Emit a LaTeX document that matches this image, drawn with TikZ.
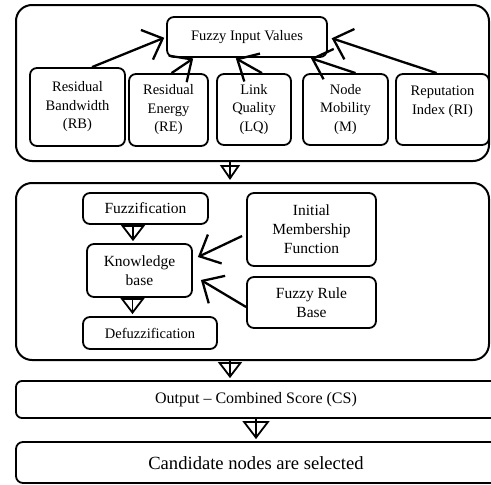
\documentclass[tikz,border=0pt]{standalone}
\usepackage{fontspec}
\setmainfont{Liberation Serif}
\usetikzlibrary{arrows.meta,calc}
\begin{document}
\begin{tikzpicture}[x=1pt,y=-1pt,
  box/.style={draw, line width=1.8pt, rounded corners=7pt, align=center, inner sep=0pt},
  bigbox/.style={draw, line width=2pt, rounded corners=16pt, align=center, inner sep=0pt},
  fa/.style={font=\fontsize{14.5}{18.5}\selectfont},
  fb/.style={font=\fontsize{15.5}{19}\selectfont},
  barb/.style={line width=2.3pt, -{Straight Barb[length=17pt,width=32pt]}},
  tri/.style={line width=1.8pt, shorten >=2pt, -{Triangle[open,length=16pt,width=24pt]}},
  shaft/.style={line width=1.8pt, shorten >=3pt},
]
\useasboundingbox (0,0) rectangle (491,485);
\clip (0,0) rectangle (491,485);

% outer containers
\node[bigbox, minimum width=473pt, minimum height=156pt] (outer1) at (252.5,83) {};
\node[bigbox, minimum width=473pt, minimum height=177pt] (outer2) at (252.5,271.5) {};

% top section
\node[box, fa, minimum width=160pt, minimum height=40pt] (fiv) at (247,37) {Fuzzy Input Values};
\node[box, fa, minimum width=95pt, minimum height=78pt] (rb) at (77.5,107) {Residual\\Bandwidth\\(RB)};
\node[box, fa, minimum width=79pt, minimum height=72pt] (re) at (168.5,110) {Residual\\Energy\\(RE)};
\node[box, fa, minimum width=74pt, minimum height=71pt] (lq) at (254,109.5) {Link\\Quality\\(LQ)};
\node[box, fa, minimum width=85pt, minimum height=71pt] (nm) at (345.5,109.5) {Node\\Mobility\\(M)};
\node[box, fa, minimum width=93pt, minimum height=71pt] (ri) at (442.5,109.5) {Reputation\\Index (RI)\\\mbox{}};

\draw[barb, shorten >=2pt] (rb.70) -- (fiv.west);
\draw[barb, shorten >=1pt] ([xshift=3pt]re.north) -- ([xshift=-53pt]fiv.south);
\draw[barb, shorten >=1pt] ([xshift=8pt]lq.north) -- ([xshift=-12pt]fiv.south);
\draw[barb, shorten >=1pt] ([xshift=10pt]nm.north) -- ([xshift=63pt]fiv.south);
\draw[barb, shorten >=4pt] ([xshift=-6pt]ri.north) -- (fiv.east);

% middle section
\node[box, fb, minimum width=125pt, minimum height=31pt] (fuzz) at (145.5,208.5) {Fuzzification};
\node[box, fb, minimum width=105pt, minimum height=53pt] (kb) at (139.5,270.5) {Knowledge\\base};
\node[box, fa, minimum width=134pt, minimum height=32pt] (defuzz) at (150,333) {Defuzzification};
\node[box, fb, minimum width=129pt, minimum height=73pt] (imf) at (311.5,229.5) {Initial\\Membership\\Function};
\node[box, fb, minimum width=129pt, minimum height=51pt] (frb) at (311.5,302.5) {Fuzzy Rule\\Base};

\draw[barb] ([xshift=-4pt,yshift=-6.5pt]imf.west) -- ([xshift=5pt,yshift=13.5pt]kb.east);
\draw[barb] ([yshift=-4.5pt]frb.west) -- ([xshift=8pt,yshift=-9.5pt]kb.east);

% bottom section
\node[box, rounded corners=6pt, minimum width=490pt, minimum height=37pt] (out) at (261,399.5) {};
\node[font=\fontsize{16}{19}\selectfont] (outtext) at (256,399.5) {Output -- Combined Score (CS)};
\node[box, rounded corners=7pt, minimum width=490pt, minimum height=41pt] (cand) at (261,462.5) {};
\node[font=\fontsize{18.6}{22}\selectfont] (candtext) at (256,463) {Candidate nodes are selected};

% block arrows
\coordinate (c1) at (230,0);
\coordinate (c2) at (133,0);
\coordinate (c3) at (132.5,0);
\coordinate (c4) at (230,0);
\coordinate (c5) at (256,0);
\draw[tri, -{Triangle[open,length=15pt,width=20pt]}] (c1 |- outer1.south) -- (c1 |- outer2.north);
\draw[shaft] (c1 |- outer1.south) -- (c1 |- outer2.north);
\draw[tri] (c2 |- fuzz.south) -- (c2 |- kb.north);
\draw[shaft] (c2 |- fuzz.south) -- (c2 |- kb.north);
\draw[tri] (c3 |- kb.south) -- (c3 |- defuzz.north);
\draw[shaft] (c3 |- kb.south) -- (c3 |- defuzz.north);
\draw[tri] (c4 |- outer2.south) -- (c4 |- out.north);
\draw[shaft] (c4 |- outer2.south) -- (c4 |- out.north);
\draw[tri, -{Triangle[open,length=18pt,width=27pt]}] (c5 |- out.south) -- (c5 |- cand.north);
\draw[shaft] (c5 |- out.south) -- (c5 |- cand.north);
\end{tikzpicture}
\end{document}
